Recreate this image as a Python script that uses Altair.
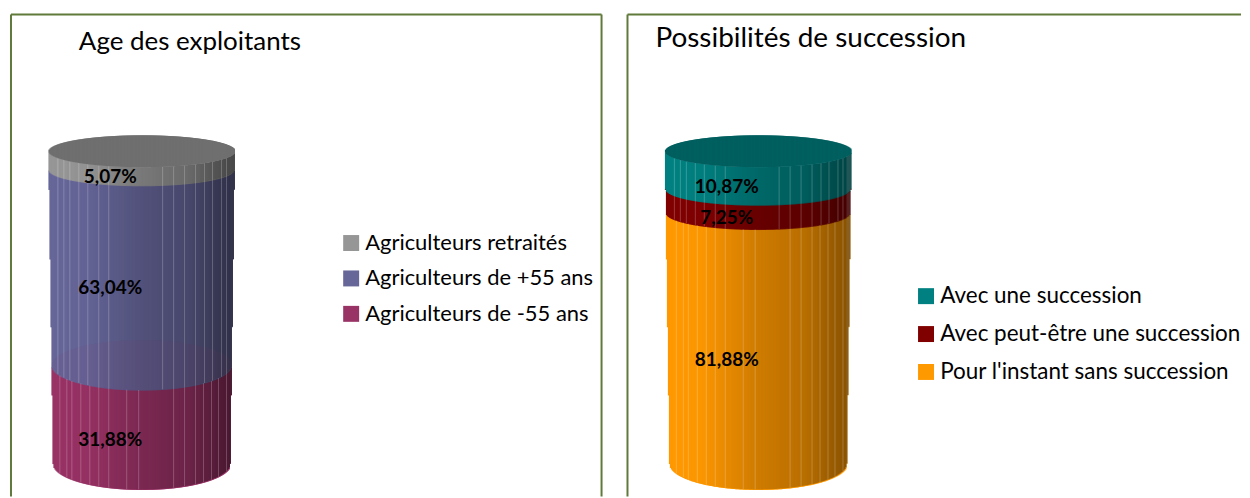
import altair as alt
import numpy as np
import pandas as pd

alt.data_transformers.disable_max_rows()

# --- chart values (bottom of the stack first) ---
left_title = "Age des exploitants"
left_names = ["Agriculteurs de -55 ans", "Agriculteurs de +55 ans", "Agriculteurs retraités"]
left_values = [31.88, 63.04, 5.07]
left_colors = ["#993366", "#666699", "#969696"]
left_top = "#6f6f6f"

right_title = "Possibilités de succession"
right_names = ["Pour l'instant sans succession", "Avec peut-être une succession", "Avec une succession"]
right_values = [81.88, 7.25, 10.87]
right_colors = ["#FF9900", "#800000", "#008080"]
right_top = "#005f5f"

# --- look of the perspective cylinder ---
FRAME = "#5f7a3b"
FONT = "Lato"
LEVEL_T = [0, 0.32, 0.82, 0.95, 1]
LEVEL_Y = [450, 351, 198, 155, 137]
LEVEL_B = [26, 25, 17, 16.3, 16]
HALF_W = [89, 93.5]
SHADE_U = [0, 0.2, 0.5, 0.75, 0.95, 1]
SHADE_A = [0, 0.02, 0.2, 0.3, 0.5, 0.55]
EDGES_UPPER = [-84, -78, -72, -63, -54, -43, -33, 21, 32, 43, 54, 63, 71, 80, 85]
EDGES_LOWER = [-82, -75.5, -70, -61.5, -52, -43, -33, -15, -3, 32, 42.5, 53.5, 62, 70, 77, 85]
H = 483
SNAP = 0.5
OVER = 1.0  # opaque columns overlap their neighbour so that no white seam shows


def yc(t):
    return float(np.interp(t, LEVEL_T, LEVEL_Y))


def bh(t):
    return float(np.interp(t, LEVEL_T, LEVEL_B))


def aw(t):
    return HALF_W[0] + (HALF_W[1] - HALF_W[0]) * t


def front(t, dx):
    a = aw(t)
    if abs(dx) <= a:
        return yc(t) + bh(t) * np.sqrt(1 - (dx / a) ** 2)
    t2 = (abs(dx) - HALF_W[0]) / (HALF_W[1] - HALF_W[0])
    return yc(min(t2, 1))


def panel(title, names, values, colors, top_color, cx, width, title_xy, title_size, leg_x, leg_y, leg_row, leg_size, ghost, right_edge):
    levels = np.cumsum([0] + values) / sum(values)
    levels[-1] = 1.0
    walls, shade, top, ghosts = [], [], [], []
    for px in range(int(cx - HALF_W[1]), int(cx + HALF_W[1]) + 1):
        dx = px + 0.5 - cx
        if abs(dx) > HALF_W[1]:
            continue
        u = (dx + HALF_W[1]) / (2 * HALF_W[1])
        alpha = float(np.interp(u, SHADE_U, SHADE_A))
        x0, x1 = px - SNAP, px + 1 - SNAP
        for i, name in enumerate(names):
            t1, t2 = levels[i], levels[i + 1]
            if abs(dx) > aw(t2):
                continue
            y1 = front(t2, dx)
            y2 = front(t1, dx)
            if y2 > y1:
                walls.append(dict(x=x0, x2=x1 + (OVER if dx < HALF_W[0] - 1 else 0), y=y1, y2=y2 + 0.6, s=name))
                shade.append(dict(x=x0, x2=x1, y=y1, y2=y2, a=alpha))
        a = aw(1)
        k = np.sqrt(max(0, 1 - (dx / a) ** 2))
        top.append(dict(x=x0, x2=x1 + (OVER if dx < a - 1 else 0), y=yc(1) - bh(1) * k, y2=yc(1) + bh(1) * k))
        if ghost:
            t = levels[1]
            a = aw(t)
            if abs(dx) < a:
                k = np.sqrt(1 - (dx / a) ** 2)
                ghosts.append(dict(x=x0, x2=x1, y=yc(t) - bh(t) * k, y2=yc(t) + bh(t) * k))

    edges = []
    for i in range(len(names)):
        for e in (EDGES_LOWER if i == 0 else EDGES_UPPER):
            if abs(e) < aw(levels[i + 1]):
                edges.append(dict(x=float(np.floor(cx + e)), y=front(levels[i + 1], e), y2=front(levels[i], e)))

    labels = []
    for i, v in enumerate(values):
        ymid = (front(levels[i], 0) + front(levels[i + 1], 0)) / 2 + 0.5
        labels.append(dict(x=cx - 32, y=ymid, t=f"{v:.2f}".replace(".", ",") + "%"))

    X = alt.X("x:Q", axis=None, scale=alt.Scale(domain=[0, width], nice=False, zero=False))
    Y = alt.Y("y:Q", axis=None, scale=alt.Scale(domain=[H, 0], nice=False, zero=False))

    legend = alt.Legend(
        orient="none", legendX=leg_x, legendY=leg_y, title=None, symbolType="square",
        symbolSize=256, symbolStrokeWidth=0, labelFont=FONT, labelFontSize=leg_size, labelColor="#000000",
        labelLimit=400, rowPadding=leg_row, labelOffset=3, padding=0, values=names[::-1],
    )
    color = alt.Color("s:N", scale=alt.Scale(domain=names, range=colors), legend=legend)

    frame = [
        alt.Chart(pd.DataFrame({"x": [0]})).mark_rule(color=FRAME, strokeWidth=2).encode(
            x=alt.value(0), x2=alt.value(width), y=alt.value(0)),
        alt.Chart(pd.DataFrame({"x": [0]})).mark_rule(color=FRAME, strokeWidth=2).encode(
            x=alt.value(0), y=alt.value(0), y2=alt.value(H)),
    ]
    if right_edge:
        frame.append(alt.Chart(pd.DataFrame({"x": [0]})).mark_rule(color=FRAME, strokeWidth=2).encode(
            x=alt.value(width), y=alt.value(0), y2=alt.value(H)))

    layers = frame + [
        alt.Chart(pd.DataFrame(walls)).mark_rect(strokeWidth=0, opacity=1).encode(X, Y, x2="x2:Q", y2="y2:Q", color=color),
        alt.Chart(pd.DataFrame(shade)).mark_rect(color="#000000", strokeWidth=0).encode(
            X, Y, x2="x2:Q", y2="y2:Q", opacity=alt.Opacity("a:Q", scale=None)),
    ]
    if ghost:
        layers.append(alt.Chart(pd.DataFrame(ghosts)).mark_rect(color=colors[0], opacity=0.07, strokeWidth=0).encode(
            X, Y, x2="x2:Q", y2="y2:Q"))
    layers += [
        alt.Chart(pd.DataFrame(edges)).mark_rule(color="#ffffff", opacity=0.22, strokeWidth=1).encode(X, Y, y2="y2:Q"),
        alt.Chart(pd.DataFrame(top)).mark_rect(color=top_color, strokeWidth=0, opacity=1).encode(X, Y, x2="x2:Q", y2="y2:Q"),
        alt.Chart(pd.DataFrame(labels)).mark_text(font=FONT, fontSize=19, fontWeight="bold", color="#000000").encode(
            X, Y, text="t:N"),
        alt.Chart(pd.DataFrame([dict(x=title_xy[0], y=title_xy[1], t=title)])).mark_text(
            font=FONT, fontSize=title_size, color="#000000", align="left", baseline="middle").encode(X, Y, text="t:N"),
    ]
    return alt.layer(*layers).properties(width=width, height=H)


left = panel(left_title, left_names, left_values, left_colors, left_top, 131.5, 592, (68, 28), 26, 330, 218, 13.5, 22, True, True)
right = panel(right_title, right_names, right_values, right_colors, right_top, 131.5, 615, (28, 25), 28, 288, 271, 15, 22.5, False, False)

chart = (
    alt.hconcat(left, right, spacing=24)
    .resolve_scale(color="independent")
    .properties(padding={"left": 2, "top": 5, "right": 0, "bottom": 0})
    .configure_view(stroke=None)
)
chart.save("out.html", embed_options={"renderer": "svg", "actions": False})
